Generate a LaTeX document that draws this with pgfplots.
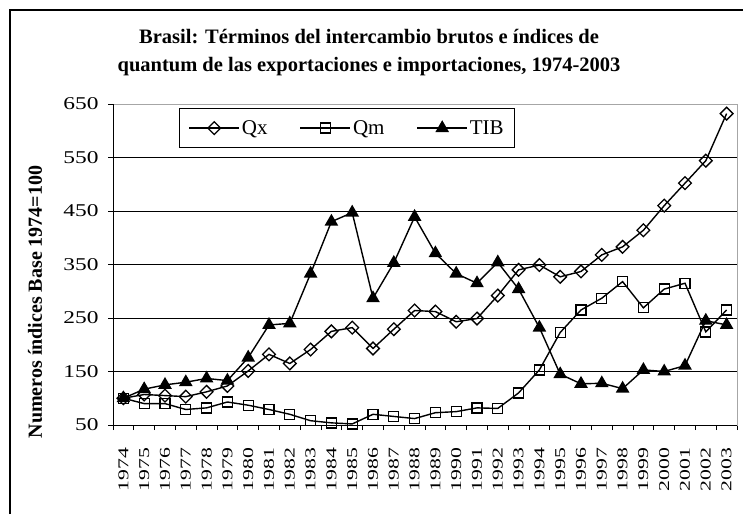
\documentclass[border=0pt]{standalone}
\usepackage{fontspec}
\setmainfont{Liberation Serif}
\newfontfamily\wideserif[FakeStretch=1.3]{Liberation Serif}
\newfontfamily\widerserif[FakeStretch=1.45]{Liberation Serif}
\usepackage{pgfplots}
\pgfplotsset{compat=1.18}
\pgfplotstableread{
year Qx Qm TIB
1974 100 100 100
1975 107 90 117
1976 105 90 125
1977 103 79 130
1978 112 82 137
1979 123 93 133
1980 151 87 176
1981 182 79 237
1982 165 70 240
1983 191 58 333
1984 225 54 430
1985 232 52 447
1986 193 70 287
1987 229 66 353
1988 264 62 439
1989 262 73 371
1990 243 75 333
1991 249 82 315
1992 292 81 354
1993 340 110 304
1994 349 153 232
1995 327 223 145
1996 337 265 127
1997 368 287 128
1998 383 318 118
1999 414 269 153
2000 460 304 150
2001 502 315 161
2002 544 224 245
2003 632 265 237
}\datatable
\begin{document}
\begin{tikzpicture}[x=1pt,y=1pt]
\path[use as bounding box] (0,0) rectangle (743,514);
\draw[line width=1.2pt] (10,0) -- (10,504) -- (743,504);
\node[font=\fontsize{20.5}{28}\selectfont\bfseries, align=center] at (369,461) {Brasil: Términos del intercambio brutos e índices de\\quantum de las exportaciones e importaciones, 1974-2003};
\node[rotate=90, font=\fontsize{20}{20}\selectfont\bfseries] at (35,212) {Numeros índices Base 1974=100};
\begin{axis}[at={(113pt,89pt)}, anchor=south west, scale only axis,
  width=624pt, height=321pt,
  xmin=1973.5, xmax=2003.5, ymin=50, ymax=650,
  ytick={50,150,...,650},
  xtick={1974,...,2003},
  xticklabels={1974,1975,1976,1977,1978,1979,1980,1981,1982,1983,1984,1985,1986,1987,1988,1989,1990,1991,1992,1993,1994,1995,1996,1997,1998,1999,2000,2001,2002,2003},
  tick pos=left,
  major x tick style={draw=none},
  minor xtick={1973.5,1974.5,...,2003.5},
  minor x tick style={black, line width=0.8pt},
  minor tick length=5pt,
  major tick length=5pt,
  tick align=outside,
  ytick style={black, line width=0.8pt},
  x tick label style={rotate=90, anchor=east, font=\widerserif\fontsize{15}{15}\selectfont},
  y tick label style={font=\wideserif\fontsize{18}{18}\selectfont},
  /pgf/number format/assume math mode=true,
  xticklabel shift=14pt,
  yticklabel shift=6pt,
  ymajorgrids,
  grid style={black, line width=0.7pt},
  axis line style={draw=gray!70, line width=0.9pt},
  legend columns=3,
  legend style={at={(0.106,0.9875)}, anchor=north west, draw=black, fill=white,
    line width=0.8pt, font=\fontsize{21}{21}\selectfont,
    inner xsep=9pt, inner ysep=10pt,
    /tikz/every even column/.append style={column sep=30pt}},
  legend image code/.code={\draw[mark repeat=2,mark phase=2,#1] plot coordinates {(0pt,0pt) (25pt,0pt) (50pt,0pt)};},
  clip=false,
]
\addplot[black, line width=1.4pt, mark=square, mark size=4.5pt, mark options={rotate=45, fill=white, line width=1.3pt}] table[x=year, y=Qx] {\datatable};
\addlegendentry{Qx}
\addplot[black, line width=1.4pt, mark=square, mark size=5pt, mark options={fill=white, line width=1.3pt}] table[x=year, y=Qm] {\datatable};
\addlegendentry{Qm}
\addplot[black, line width=1.4pt, mark=triangle*, mark size=6.5pt, mark options={fill=black}] table[x=year, y=TIB] {\datatable};
\addlegendentry{TIB}
\draw[black, line width=1pt] (rel axis cs:0,1) -- (rel axis cs:0,0) -- (rel axis cs:1,0);
\end{axis}
\end{tikzpicture}
\end{document}
